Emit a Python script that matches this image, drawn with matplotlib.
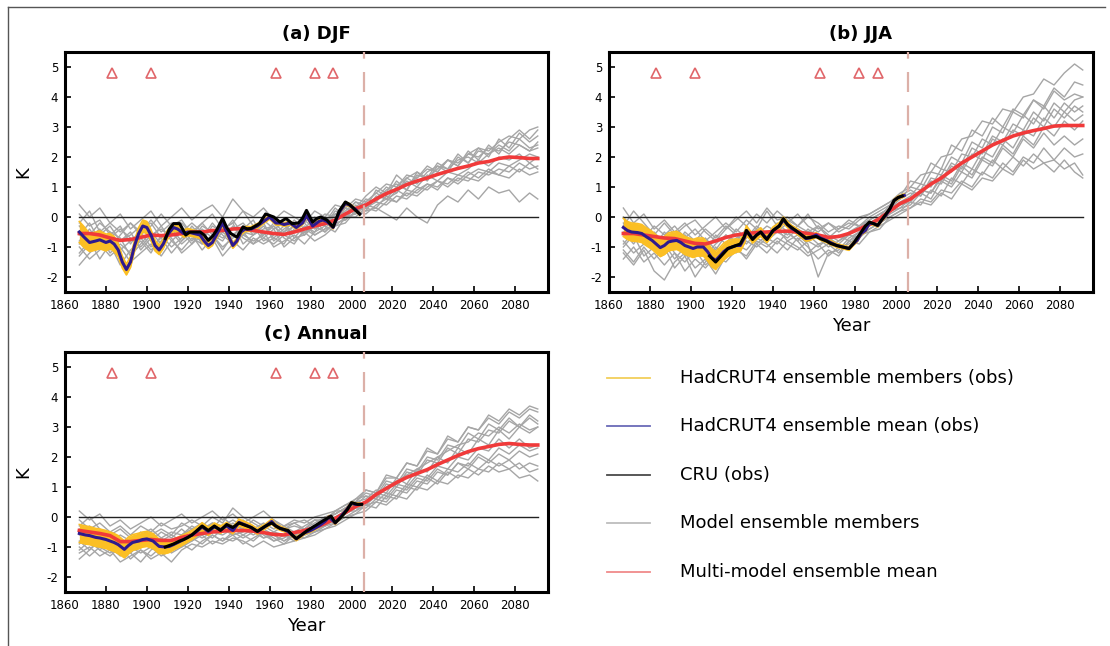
import numpy as np
import matplotlib
matplotlib.use("Agg")
import matplotlib.pyplot as plt
from matplotlib.lines import Line2D

# ---------------- data ----------------
member_years = [1867, 1872, 1877, 1882, 1887, 1892, 1897, 1902, 1907, 1912, 1917, 1922,
                1927, 1932, 1937, 1942, 1947, 1952, 1957, 1962, 1967, 1972, 1977, 1982,
                1987, 1992, 1997, 2002, 2007, 2012, 2017, 2022, 2027, 2032, 2037, 2042,
                2047, 2052, 2057, 2062, 2067, 2072, 2077, 2082, 2087, 2091]

volcano_years = [1883, 1902, 1963, 1982, 1991]
volcano_level = 4.8
split_year = 2006

# ----- (a) DJF -----
mmm_djf = [-0.55, -0.55, -0.6, -0.7, -0.78, -0.75, -0.68, -0.6, -0.62, -0.6, -0.55, -0.5,
           -0.5, -0.45, -0.45, -0.4, -0.38, -0.45, -0.5, -0.55, -0.58, -0.5, -0.4, -0.3,
           -0.22, -0.1, 0.1, 0.28, 0.4, 0.6, 0.78, 0.92, 1.08, 1.2, 1.3, 1.42,
           1.52, 1.62, 1.7, 1.8, 1.85, 1.95, 2.0, 1.98, 1.95, 1.95]
members_djf = [
    [0.1, -0.3, -0.1, -0.6, -0.3, -0.9, -0.4, -0.2, -0.7, -0.3, -0.1, -0.6, -0.2, 0.1, -0.4, -0.2, 0.2, -0.3, -0.6, -0.2, -0.5, -0.1, -0.4, 0.0, -0.3, 0.2, 0.1, 0.5, 0.3, 0.9, 0.7, 1.2, 0.9, 1.5, 1.3, 1.8, 1.6, 2.1, 1.8, 2.3, 2.0, 2.6, 2.3, 2.8, 2.5, 2.7],
    [-1.2, -0.8, -1.4, -0.9, -1.6, -1.1, -0.8, -1.2, -0.6, -1.0, -0.7, -0.4, -0.9, -0.6, -0.8, -0.3, -0.7, -0.9, -0.5, -1.0, -0.8, -0.6, -0.9, -0.5, -0.3, -0.5, 0.0, 0.1, 0.4, 0.3, 0.7, 0.5, 0.9, 0.8, 1.1, 0.9, 1.3, 1.2, 1.5, 1.3, 1.6, 1.4, 1.7, 1.5, 1.8, 1.6],
    [-0.3, -0.7, -0.4, -1.0, -0.8, -0.5, -1.1, -0.7, -0.3, -0.8, -0.5, -0.9, -0.4, -0.7, -0.2, -0.6, -0.4, -0.1, -0.7, -0.4, -0.2, -0.7, -0.3, -0.5, 0.0, -0.2, 0.3, 0.2, 0.6, 0.5, 0.9, 1.1, 0.9, 1.4, 1.3, 1.6, 1.9, 1.7, 2.1, 2.0, 2.3, 2.2, 2.5, 2.4, 2.2, 2.5],
    [-0.8, -0.4, -0.9, -0.5, -0.7, -1.3, -0.9, -0.5, -0.9, -0.4, -0.8, -0.3, -0.7, -0.2, -0.6, -0.9, -0.5, -0.6, -0.3, -0.7, -0.9, -0.4, -0.2, -0.6, -0.4, 0.1, -0.1, 0.4, 0.2, 0.3, 0.1, -0.1, 0.3, 0.0, -0.2, 0.4, 0.7, 0.5, 0.9, 0.6, 1.0, 0.8, 0.9, 0.5, 0.8, 0.6],
    [-0.5, -1.0, -0.6, -0.3, -0.8, -0.6, -0.3, -0.8, -1.0, -0.5, -0.2, -0.6, -0.8, -0.3, -0.5, -0.1, -0.6, -0.3, -0.8, -0.6, -0.3, -0.5, -0.1, -0.4, -0.2, 0.3, 0.0, 0.3, 0.7, 1.0, 0.8, 1.4, 1.1, 1.3, 1.7, 1.5, 1.9, 1.7, 2.2, 1.9, 2.4, 2.1, 2.6, 2.9, 2.6, 2.9],
    [-1.6, -1.2, -0.9, -1.3, -1.0, -1.5, -1.2, -0.9, -1.3, -0.8, -1.1, -0.7, -0.9, -0.6, -1.0, -0.7, -0.5, -0.9, -0.7, -0.9, -0.6, -0.8, -0.5, -0.3, -0.5, -0.2, -0.1, 0.2, 0.1, 0.4, 0.6, 0.5, 0.8, 0.7, 1.0, 1.2, 1.0, 1.3, 1.2, 1.5, 1.4, 1.6, 1.5, 1.8, 1.6, 1.7],
    [0.4, 0.0, 0.3, -0.2, 0.1, -0.4, -0.1, 0.2, -0.3, 0.0, 0.3, -0.1, 0.2, 0.4, 0.0, 0.6, 0.2, 0.0, 0.3, -0.1, 0.2, 0.0, -0.2, 0.2, 0.0, 0.4, 0.3, 0.6, 0.5, 0.8, 1.1, 1.0, 1.4, 1.3, 1.6, 1.5, 1.9, 1.8, 2.1, 2.3, 2.2, 2.5, 2.7, 2.6, 2.9, 3.0],
    [-0.9, -0.6, -0.2, -0.5, -1.1, -0.8, -0.5, -1.0, -0.7, -1.2, -0.8, -0.5, -0.2, -0.6, -1.1, -0.6, -0.3, -0.5, -0.1, -0.4, -1.0, -0.7, -0.6, -0.2, 0.1, 0.0, 0.4, 0.3, 0.2, 0.7, 0.6, 0.8, 1.2, 1.0, 1.4, 1.2, 1.5, 1.4, 1.6, 1.9, 1.7, 2.0, 1.9, 2.1, 1.8, 2.0],
    [-0.2, 0.2, -0.5, -0.2, -0.5, -0.2, -0.6, -0.3, 0.1, -0.3, -0.5, -0.2, -0.5, -0.9, -0.4, -0.2, -0.9, -0.6, -0.4, -0.3, -0.6, -0.3, -0.6, -0.3, -0.1, 0.1, 0.3, 0.1, 0.5, 0.8, 0.6, 1.0, 1.3, 1.1, 1.5, 1.7, 1.5, 2.0, 1.8, 2.2, 2.1, 2.4, 2.2, 2.6, 2.3, 2.4],
    [-1.0, -1.4, -1.1, -0.7, -0.4, -0.7, -1.0, -0.6, -0.4, -0.7, -1.2, -0.9, -0.6, -0.9, -0.5, -0.8, -1.1, -0.7, -0.9, -0.7, -0.4, -0.2, -0.5, -0.8, -0.6, -0.3, 0.0, 0.0, 0.3, 0.2, 0.5, 0.9, 0.7, 1.0, 0.9, 1.2, 1.1, 1.4, 1.3, 1.2, 1.5, 1.4, 1.3, 1.6, 1.4, 1.5],
    [-0.6, -0.2, -0.8, -1.1, -0.6, -0.2, -0.5, -0.1, -0.5, -0.2, -0.4, -0.8, -0.3, -0.5, -0.7, -0.4, -0.2, -0.6, -0.2, -0.8, -0.5, -0.3, -0.6, -0.1, -0.5, -0.1, 0.2, 0.5, 0.4, 0.6, 1.0, 0.8, 1.3, 1.5, 1.2, 1.7, 1.6, 1.9, 2.0, 1.8, 2.1, 2.3, 2.1, 2.4, 2.2, 2.3],
    [-1.3, -0.9, -0.6, -1.2, -0.9, -1.2, -0.7, -1.1, -0.8, -0.5, -0.9, -0.6, -1.1, -0.7, -1.3, -0.9, -0.6, -0.8, -0.6, -0.3, -0.7, -0.9, -0.4, -0.6, -0.4, -0.3, -0.2, 0.2, 0.3, 0.5, 0.4, 0.7, 0.6, 0.9, 1.1, 1.0, 1.3, 1.1, 1.4, 1.6, 1.5, 1.8, 1.7, 1.9, 2.1, 2.0],
]
had_years_djf = [1867, 1869, 1872, 1875, 1877, 1880, 1882, 1884, 1886, 1888, 1890, 1892, 1894,
                 1896, 1898, 1900, 1902, 1904, 1906, 1908, 1910, 1913, 1915, 1918, 1920, 1923,
                 1926, 1928, 1930, 1932, 1934, 1937, 1939, 1942, 1944, 1946, 1948, 1951, 1954,
                 1957, 1960, 1963, 1965, 1967, 1970, 1973, 1976, 1978, 1981, 1984, 1986, 1988,
                 1991, 1994, 1997, 1999, 2002, 2004]
had_mean_djf = [-0.5, -0.65, -0.85, -0.8, -0.76, -0.85, -0.8, -0.9, -1.1, -1.5, -1.75, -1.5, -0.95,
                -0.55, -0.3, -0.35, -0.6, -0.95, -1.1, -0.9, -0.6, -0.35, -0.4, -0.55, -0.5, -0.55,
                -0.6, -0.8, -0.95, -0.85, -0.6, -0.2, -0.5, -0.95, -0.8, -0.5, -0.4, -0.4, -0.3,
                -0.15, 0.0, -0.2, -0.2, -0.25, -0.2, -0.35, -0.2, 0.05, -0.3, -0.15, -0.1, -0.15,
                -0.35, 0.15, 0.45, 0.4, 0.25, 0.1]
had_spread_djf = [0.35, 0.35, 0.3, 0.3, 0.3, 0.28, 0.25, 0.25, 0.22, 0.2, 0.18, 0.18, 0.18,
                  0.2, 0.2, 0.2, 0.18, 0.18, 0.15, 0.15, 0.15, 0.12, 0.12, 0.12, 0.12, 0.11,
                  0.11, 0.11, 0.1, 0.1, 0.1, 0.1, 0.1, 0.09, 0.09, 0.09, 0.08, 0.08, 0.08,
                  0.07, 0.07, 0.07, 0.07, 0.06, 0.06, 0.06, 0.06, 0.06, 0.05, 0.05, 0.05, 0.05,
                  0.05, 0.05, 0.05, 0.05, 0.05, 0.05]
cru_years_djf = [1909, 1911, 1913, 1916, 1919, 1921, 1923, 1926, 1928, 1930, 1932, 1934, 1937,
                 1939, 1941, 1944, 1947, 1949, 1951, 1955, 1958, 1960, 1962, 1965, 1968, 1971,
                 1974, 1976, 1978, 1981, 1983, 1985, 1988, 1991, 1994, 1997, 1999, 2002, 2004]
cru_djf = [-0.72, -0.4, -0.22, -0.22, -0.6, -0.5, -0.5, -0.5, -0.6, -0.78, -0.65, -0.45, -0.05,
           -0.35, -0.55, -0.67, -0.33, -0.4, -0.38, -0.22, 0.1, 0.05, 0.0, -0.17, -0.05, -0.22,
           -0.2, -0.05, 0.22, -0.17, -0.05, 0.0, -0.1, -0.33, 0.2, 0.5, 0.42, 0.22, 0.1]

# ----- (b) JJA -----
mmm_jja = [-0.55, -0.55, -0.6, -0.65, -0.7, -0.72, -0.8, -0.88, -0.9, -0.8, -0.68, -0.6,
           -0.55, -0.52, -0.5, -0.48, -0.47, -0.5, -0.55, -0.6, -0.68, -0.65, -0.55, -0.4,
           -0.25, -0.05, 0.2, 0.45, 0.6, 0.85, 1.1, 1.3, 1.55, 1.8, 2.0, 2.2,
           2.4, 2.55, 2.7, 2.8, 2.88, 2.95, 3.03, 3.05, 3.05, 3.05]
members_jja = [
    [0.3, -0.2, 0.1, -0.4, -0.1, -0.5, -0.2, -0.6, -0.3, 0.0, -0.4, -0.1, 0.2, -0.2, 0.3, -0.1, 0.0, -0.3, 0.1, -0.4, -0.2, -0.5, -0.3, 0.0, 0.1, 0.3, 0.5, 0.8, 1.0, 1.4, 1.5, 2.0, 2.1, 2.6, 2.7, 3.2, 3.1, 3.6, 3.5, 4.0, 4.1, 4.6, 4.4, 4.8, 5.1, 4.9],
    [-1.2, -1.6, -1.1, -1.8, -2.1, -1.5, -1.2, -1.7, -1.4, -1.9, -1.3, -1.0, -1.4, -0.9, -1.2, -0.8, -1.1, -0.7, -1.0, -1.4, -1.1, -1.3, -0.8, -0.9, -0.5, -0.4, 0.0, 0.2, 0.5, 0.4, 0.9, 0.7, 1.3, 1.1, 1.6, 1.4, 1.9, 1.6, 2.0, 1.7, 2.1, 1.8, 1.9, 1.6, 1.8, 1.4],
    [-0.5, -0.9, -0.4, -0.7, -1.1, -0.8, -1.3, -0.9, -1.2, -0.6, -0.9, -0.4, -0.7, -0.3, -0.6, -0.2, -0.5, -0.8, -0.4, -0.7, -1.0, -0.8, -0.6, -0.3, -0.1, 0.1, 0.3, 0.5, 0.7, 1.1, 1.0, 1.6, 1.5, 2.1, 2.0, 2.6, 2.4, 3.0, 2.8, 3.4, 3.1, 3.7, 3.3, 3.8, 3.5, 3.7],
    [-1.0, -0.6, -1.3, -1.0, -0.7, -1.2, -1.5, -1.1, -1.6, -1.3, -0.9, -1.2, -0.8, -1.0, -0.7, -0.9, -0.5, -0.8, -1.2, -0.9, -1.3, -1.0, -0.9, -0.6, -0.4, -0.2, 0.1, 0.3, 0.4, 0.8, 0.6, 1.2, 1.0, 1.5, 1.3, 1.9, 1.7, 2.3, 2.0, 2.6, 2.3, 2.8, 2.4, 2.7, 2.4, 2.6],
    [0.0, -0.4, -0.7, -0.3, -0.6, -0.3, -0.7, -0.4, -0.8, -0.5, -0.2, -0.5, -0.1, -0.4, 0.2, -0.3, -0.2, 0.1, -0.3, -0.5, -0.2, -0.4, -0.1, -0.3, 0.0, 0.2, 0.4, 0.6, 1.0, 0.9, 1.5, 1.4, 2.0, 1.8, 2.5, 2.3, 3.0, 2.8, 3.5, 3.3, 3.9, 3.7, 4.3, 4.0, 4.5, 4.4],
    [-0.8, -1.2, -0.9, -0.5, -0.9, -1.4, -1.0, -1.3, -0.9, -1.4, -1.0, -0.7, -0.5, -0.9, -0.6, -0.4, -0.8, -0.6, -0.9, -2.0, -1.2, -1.1, -0.7, -0.5, -0.2, 0.0, 0.2, 0.4, 0.5, 0.9, 0.8, 1.3, 1.1, 1.7, 1.4, 2.0, 1.8, 2.4, 2.1, 2.7, 2.4, 3.0, 2.7, 3.2, 2.9, 3.2],
    [-0.3, 0.2, -0.2, -0.6, -0.2, -0.6, -0.3, -0.1, -0.5, -0.8, -0.4, 0.0, -0.3, 0.1, -0.2, 0.2, -0.1, -0.3, 0.0, -0.2, -0.5, -0.3, -0.4, -0.1, 0.1, 0.3, 0.5, 0.7, 1.2, 1.1, 1.8, 1.6, 2.4, 2.2, 2.9, 2.7, 3.3, 3.0, 3.6, 3.4, 3.9, 3.6, 4.2, 3.9, 4.1, 4.0],
    [-1.4, -1.0, -1.5, -1.2, -1.6, -1.2, -1.8, -1.4, -1.7, -1.3, -1.5, -1.1, -1.3, -0.8, -1.0, -0.7, -0.9, -1.1, -0.8, -1.0, -0.7, -0.9, -0.6, -0.7, -0.4, -0.2, 0.0, 0.2, 0.3, 0.6, 0.5, 0.9, 0.8, 1.2, 1.0, 1.5, 1.3, 1.8, 1.5, 2.0, 1.8, 2.3, 1.9, 2.3, 2.0, 2.1],
    [-0.6, -0.3, -0.8, -1.0, -0.5, -0.9, -0.6, -1.0, -0.7, -1.1, -0.6, -0.8, -0.4, -0.6, -0.3, -0.5, -0.2, -0.4, -0.7, -0.3, -0.6, -0.8, -0.5, -0.3, -0.2, 0.0, 0.4, 0.7, 0.9, 0.7, 1.3, 1.2, 1.8, 1.6, 2.3, 2.1, 2.7, 2.5, 3.1, 2.9, 3.5, 3.2, 3.8, 3.5, 3.9, 4.0],
    [-0.9, -0.5, -0.8, -0.6, -1.2, -0.9, -0.6, -1.0, -1.3, -0.9, -0.6, -0.9, -0.7, -0.4, -0.8, -0.5, -0.7, -0.4, -0.6, -0.9, -0.8, -0.6, -0.8, -0.5, -0.3, -0.1, 0.2, 0.3, 0.6, 0.9, 0.8, 1.4, 1.2, 1.8, 1.6, 2.2, 2.0, 2.6, 2.3, 2.9, 2.7, 3.3, 3.0, 3.5, 3.2, 3.4],
    [-0.2, -0.7, -0.5, -1.0, -0.7, -1.0, -0.5, -0.8, -0.4, -0.7, -0.3, -0.6, -0.9, -0.5, -0.8, -0.4, -0.6, -0.3, -0.5, -0.3, -0.7, -0.4, -0.2, -0.3, -0.1, 0.1, 0.3, 0.6, 0.8, 0.7, 1.2, 1.1, 1.7, 1.5, 2.1, 1.9, 2.6, 2.4, 2.9, 2.7, 3.3, 3.0, 3.6, 3.3, 3.7, 3.5],
    [-1.1, -1.5, -1.0, -1.4, -1.0, -1.7, -1.3, -2.0, -1.5, -1.0, -1.3, -0.9, -1.1, -0.7, -0.9, -1.2, -0.8, -1.0, -1.3, -1.1, -0.9, -1.2, -0.8, -0.6, -0.5, -0.3, -0.1, 0.1, 0.3, 0.5, 0.4, 0.8, 0.6, 1.1, 0.9, 1.3, 1.2, 1.6, 1.4, 1.9, 1.6, 1.8, 1.5, 1.9, 1.5, 1.3],
]
had_years_jja = [1867, 1869, 1871, 1874, 1876, 1878, 1881, 1883, 1885, 1887, 1889, 1891, 1893,
                 1895, 1897, 1899, 1901, 1903, 1906, 1908, 1910, 1912, 1914, 1916, 1918, 1920,
                 1922, 1924, 1926, 1927, 1929, 1930, 1932, 1934, 1936, 1937, 1939, 1940, 1943,
                 1945, 1947, 1949, 1951, 1953, 1956, 1958, 1961, 1963, 1966, 1968, 1971, 1974,
                 1977, 1979, 1981, 1983, 1985, 1987, 1989, 1991, 1993, 1995, 1997, 1999, 2001,
                 2004]
had_mean_jja = [-0.35, -0.45, -0.5, -0.52, -0.55, -0.65, -0.78, -0.9, -1.02, -0.95, -0.83, -0.8,
                -0.78, -0.85, -0.95, -1.0, -1.05, -1.0, -1.0, -1.15, -1.35, -1.45, -1.3, -1.15,
                -1.05, -1.0, -0.95, -0.95, -0.7, -0.45, -0.62, -0.72, -0.6, -0.5, -0.65, -0.72,
                -0.55, -0.45, -0.3, -0.1, -0.25, -0.38, -0.45, -0.55, -0.72, -0.7, -0.6, -0.7,
                -0.78, -0.85, -0.95, -1.0, -1.05, -0.9, -0.78, -0.55, -0.45, -0.2, -0.22, -0.28,
                -0.1, 0.05, 0.28, 0.55, 0.65, 0.72]
had_spread_jja = [0.3, 0.3, 0.3, 0.3, 0.3, 0.3, 0.3, 0.3, 0.3, 0.3, 0.3, 0.3, 0.3,
                  0.3, 0.3, 0.3, 0.3, 0.3, 0.3, 0.3, 0.3, 0.3, 0.28, 0.28, 0.26, 0.25,
                  0.22, 0.2, 0.18, 0.16, 0.15, 0.15, 0.14, 0.14, 0.13, 0.13, 0.12, 0.12, 0.11,
                  0.1, 0.1, 0.1, 0.09, 0.09, 0.08, 0.08, 0.08, 0.07, 0.07, 0.07, 0.06, 0.06,
                  0.06, 0.06, 0.05, 0.05, 0.05, 0.05, 0.05, 0.05, 0.05, 0.05, 0.05, 0.05, 0.05,
                  0.05]
cru_years_jja = [1909, 1912, 1914, 1916, 1918, 1920, 1922, 1924, 1926, 1927, 1929, 1930, 1932,
                 1934, 1936, 1937, 1939, 1940, 1943, 1945, 1947, 1949, 1951, 1953, 1956, 1958,
                 1961, 1963, 1966, 1968, 1971, 1974, 1977, 1979, 1982, 1985, 1987, 1989, 1991,
                 1994, 1997, 1999, 2001, 2003]
cru_jja = [-1.3, -1.5, -1.35, -1.2, -1.05, -1.0, -0.95, -0.9, -0.65, -0.45, -0.65, -0.75, -0.6,
           -0.5, -0.68, -0.75, -0.55, -0.45, -0.3, -0.05, -0.25, -0.35, -0.45, -0.55, -0.7, -0.68,
           -0.65, -0.72, -0.8, -0.88, -0.95, -1.0, -1.05, -0.9, -0.6, -0.3, -0.17, -0.22, -0.28,
           0.0, 0.28, 0.55, 0.65, 0.7]

# ----- (c) Annual -----
mmm_ann = [-0.45, -0.5, -0.55, -0.62, -0.82, -0.82, -0.78, -0.75, -0.78, -0.78, -0.68, -0.6,
           -0.55, -0.5, -0.47, -0.45, -0.45, -0.47, -0.52, -0.58, -0.6, -0.52, -0.45, -0.35,
           -0.22, -0.05, 0.15, 0.35, 0.5, 0.75, 0.95, 1.15, 1.32, 1.45, 1.58, 1.75,
           1.9, 2.05, 2.18, 2.28, 2.35, 2.42, 2.45, 2.42, 2.4, 2.4]
members_ann = [
    [0.2, -0.1, 0.1, -0.3, -0.1, -0.4, -0.2, 0.0, -0.3, -0.1, 0.1, -0.2, 0.0, 0.2, -0.1, 0.1, -0.2, 0.0, 0.2, -0.1, -0.3, -0.1, -0.2, 0.0, 0.1, 0.2, 0.4, 0.6, 0.9, 0.8, 1.3, 1.3, 1.8, 1.7, 2.2, 2.1, 2.6, 2.5, 3.0, 2.9, 3.4, 3.2, 3.6, 3.4, 3.7, 3.6],
    [-1.2, -1.0, -1.3, -1.1, -1.5, -1.3, -1.1, -1.4, -1.2, -1.5, -1.1, -0.9, -1.0, -0.8, -0.9, -0.7, -0.8, -1.0, -0.8, -1.0, -0.9, -0.8, -0.7, -0.6, -0.4, -0.3, -0.1, 0.1, 0.4, 0.3, 0.7, 0.6, 1.0, 0.9, 1.3, 1.1, 1.5, 1.3, 1.6, 1.4, 1.7, 1.5, 1.6, 1.3, 1.4, 1.2],
    [-0.4, -0.7, -0.5, -0.8, -1.0, -0.8, -0.6, -0.9, -0.7, -0.9, -0.6, -0.4, -0.6, -0.3, -0.5, -0.2, -0.4, -0.6, -0.4, -0.6, -0.8, -0.6, -0.5, -0.3, -0.1, 0.1, 0.3, 0.4, 0.7, 0.6, 1.1, 1.0, 1.5, 1.4, 1.9, 1.8, 2.3, 2.1, 2.6, 2.5, 2.9, 2.8, 3.2, 3.0, 3.3, 3.1],
    [-0.9, -0.6, -0.9, -0.7, -1.1, -1.2, -0.9, -0.8, -1.1, -0.9, -0.7, -0.8, -0.5, -0.7, -0.4, -0.6, -0.5, -0.3, -0.6, -0.8, -0.7, -0.5, -0.6, -0.4, -0.3, -0.1, 0.1, 0.3, 0.3, 0.6, 0.5, 0.9, 0.8, 1.2, 1.1, 1.5, 1.4, 1.8, 1.6, 2.0, 1.8, 2.1, 1.9, 2.2, 2.0, 2.1],
    [-0.1, -0.4, -0.2, -0.5, -0.3, -0.6, -0.3, -0.5, -0.2, -0.4, -0.3, -0.1, -0.3, 0.0, -0.2, 0.3, 0.0, -0.2, -0.4, -0.2, -0.4, -0.3, -0.4, -0.2, 0.0, 0.1, 0.3, 0.5, 0.8, 0.7, 1.2, 1.1, 1.6, 1.5, 2.0, 1.9, 2.4, 2.3, 2.8, 2.6, 3.1, 2.9, 3.3, 3.0, 3.4, 3.2],
    [-1.4, -1.1, -0.8, -1.0, -1.3, -1.0, -1.2, -1.0, -1.3, -1.1, -0.9, -1.1, -0.8, -0.6, -0.8, -0.5, -0.7, -0.5, -0.7, -0.5, -0.6, -0.7, -0.5, -0.4, -0.2, -0.1, 0.1, 0.3, 0.4, 0.7, 0.6, 1.0, 0.9, 1.3, 1.2, 1.6, 1.4, 1.8, 1.7, 2.1, 1.9, 2.3, 2.1, 2.4, 2.2, 2.3],
    [-0.6, -0.3, -0.6, -0.9, -0.6, -0.8, -0.5, -0.8, -0.5, -0.7, -0.4, -0.7, -0.4, -0.2, -0.5, -0.3, -0.1, -0.4, -0.2, -0.4, -0.3, -0.5, -0.3, -0.1, -0.2, 0.2, 0.2, 0.5, 0.6, 0.9, 0.8, 1.3, 1.1, 1.6, 1.5, 2.0, 1.8, 2.3, 2.1, 2.6, 2.4, 2.9, 2.6, 3.0, 2.8, 3.0],
    [-1.0, -1.3, -1.0, -1.2, -0.9, -1.2, -1.5, -1.1, -0.9, -1.2, -1.0, -0.7, -0.9, -0.6, -0.8, -0.6, -0.9, -0.7, -0.5, -0.8, -0.6, -0.8, -0.6, -0.5, -0.3, -0.2, 0.0, 0.2, 0.4, 0.5, 0.8, 0.7, 1.1, 1.0, 1.4, 1.2, 1.6, 1.5, 1.8, 1.6, 1.9, 1.7, 1.9, 1.6, 1.8, 1.7],
    [-0.3, 0.0, -0.4, -0.6, -0.4, -0.7, -0.9, -0.6, -0.4, -0.6, -0.2, -0.4, -0.2, -0.4, 0.0, -0.3, -0.4, -0.1, -0.3, -0.5, -0.3, -0.2, -0.4, -0.1, -0.1, 0.2, 0.4, 0.5, 0.9, 0.8, 1.4, 1.3, 1.8, 1.7, 2.3, 2.1, 2.7, 2.5, 3.0, 2.9, 3.3, 3.1, 3.5, 3.3, 3.6, 3.5],
    [-0.8, -1.1, -0.7, -0.5, -0.8, -1.0, -0.7, -1.0, -0.8, -0.6, -0.8, -0.5, -0.7, -0.5, -0.6, -0.4, -0.6, -0.8, -0.5, -0.7, -0.9, -0.6, -0.4, -0.5, -0.3, 0.0, 0.2, 0.2, 0.5, 0.8, 0.7, 1.1, 1.0, 1.4, 1.3, 1.7, 1.6, 2.0, 1.9, 2.3, 2.2, 2.6, 2.3, 2.6, 2.3, 2.4],
    [-0.5, -0.8, -1.1, -0.8, -1.1, -0.9, -0.6, -0.4, -0.7, -0.5, -0.6, -0.3, -0.5, -0.2, -0.3, -0.1, -0.3, -0.5, -0.3, -0.1, -0.4, -0.2, -0.1, -0.3, 0.0, 0.1, 0.3, 0.6, 0.7, 0.6, 1.0, 1.2, 1.4, 1.6, 1.8, 2.0, 2.2, 2.4, 2.5, 2.8, 2.7, 3.0, 2.8, 3.1, 2.9, 3.0],
    [-1.1, -0.8, -1.1, -1.3, -1.0, -1.4, -1.1, -1.3, -1.0, -0.8, -1.0, -0.8, -0.6, -0.9, -0.7, -0.8, -0.6, -0.4, -0.7, -0.6, -0.8, -0.6, -0.7, -0.5, -0.4, -0.2, 0.0, 0.1, 0.2, 0.5, 0.4, 0.7, 0.6, 1.0, 0.9, 1.2, 1.1, 1.4, 1.3, 1.6, 1.5, 1.8, 1.6, 1.8, 1.5, 1.6],
]
had_years_ann = [1867, 1870, 1872, 1875, 1877, 1880, 1882, 1884, 1886, 1889, 1891, 1893, 1896,
                 1898, 1900, 1903, 1906, 1909, 1911, 1913, 1916, 1918, 1920, 1922, 1925, 1927,
                 1930, 1933, 1936, 1939, 1942, 1945, 1949, 1951, 1954, 1958, 1961, 1963, 1965,
                 1969, 1971, 1973, 1975, 1977, 1980, 1982, 1984, 1987, 1989, 1992, 1994, 1997,
                 2000, 2002, 2004]
had_mean_ann = [-0.55, -0.6, -0.62, -0.68, -0.7, -0.75, -0.8, -0.85, -0.92, -1.08, -0.95, -0.85,
                -0.8, -0.75, -0.73, -0.8, -0.98, -1.0, -0.98, -0.92, -0.82, -0.75, -0.68, -0.6,
                -0.45, -0.33, -0.48, -0.33, -0.42, -0.3, -0.45, -0.18, -0.29, -0.35, -0.48, -0.31,
                -0.15, -0.3, -0.37, -0.48, -0.6, -0.73, -0.62, -0.53, -0.45, -0.38, -0.3, -0.15,
                0.0, -0.2, -0.05, 0.2, 0.45, 0.42, 0.42]
had_spread_ann = [0.3, 0.3, 0.3, 0.3, 0.3, 0.3, 0.3, 0.3, 0.3, 0.28, 0.28, 0.26, 0.26,
                  0.25, 0.25, 0.25, 0.24, 0.22, 0.2, 0.18, 0.17, 0.16, 0.15, 0.15, 0.14, 0.14,
                  0.13, 0.13, 0.12, 0.12, 0.11, 0.11, 0.1, 0.1, 0.09, 0.08, 0.08, 0.07, 0.07,
                  0.06, 0.06, 0.06, 0.06, 0.05, 0.05, 0.05, 0.05, 0.05, 0.05, 0.05, 0.05, 0.05,
                  0.05, 0.05, 0.05]
cru_years_ann = [1909, 1911, 1913, 1916, 1918, 1920, 1922, 1925, 1927, 1930, 1933, 1936, 1939,
                 1942, 1945, 1949, 1951, 1954, 1958, 1961, 1963, 1965, 1969, 1971, 1973, 1975,
                 1978, 1982, 1986, 1990, 1992, 1995, 1998, 2000, 2003, 2005]
cru_ann = [-1.0, -0.95, -0.9, -0.8, -0.75, -0.68, -0.6, -0.42, -0.3, -0.45, -0.3, -0.45, -0.25,
           -0.35, -0.2, -0.3, -0.35, -0.48, -0.3, -0.2, -0.3, -0.38, -0.45, -0.6, -0.72, -0.63,
           -0.47, -0.3, -0.13, 0.03, -0.19, 0.0, 0.25, 0.48, 0.42, 0.42]

x_ticks = [1860, 1880, 1900, 1920, 1940, 1960, 1980, 2000, 2020, 2040, 2060, 2080]
y_ticks = [-2, -1, 0, 1, 2, 3, 4, 5]

legend_labels = ["HadCRUT4 ensemble members (obs)", "HadCRUT4 ensemble mean (obs)",
                 "CRU (obs)", "Model ensemble members", "Multi-model ensemble mean"]
legend_colors = ["#f2cf5a", "#6a6ab8", "#4a4a4a", "#bdbdbd", "#f08a8a"]

# ---------------- styling ----------------
C_GRAY = "#a6a6a6"
C_YEL = "#fbbf24"
C_RED = "#f03a3a"
C_BLUE = "#2e1a8e"
C_DASH = "#dcb0a8"
C_TRI = "#e0666a"

W, H = 1110, 646
fig = plt.figure(figsize=(W / 100, H / 100), dpi=100)
plt.rcParams['font.family'] = ['DejaVu Sans']


def ax_rect(left, top, right, bottom):
    return [left / W, 1 - bottom / H, (right - left) / W, (bottom - top) / H]


def draw_panel(rect, title, mmm, members, hy, hm, hs, cy, cv, xlabel=False, ylabel=True):
    ax = fig.add_axes(rect)
    for m in members:
        ax.plot(member_years, m, color=C_GRAY, lw=1.0, zorder=1)
    ax.plot([member_years[0], member_years[-1]], [0, 0], color="#222222", lw=1.0, zorder=2)
    lo = [a - b for a, b in zip(hm, hs)]
    hi = [a + b for a, b in zip(hm, hs)]
    ax.fill_between(hy, lo, hi, color=C_YEL, lw=0, zorder=3)
    ax.plot(hy, lo, color=C_YEL, lw=1.2, zorder=3)
    ax.plot(hy, hi, color=C_YEL, lw=1.2, zorder=3)
    ax.plot(member_years, mmm, color=C_RED, lw=2.6, zorder=4)
    ax.plot(hy, hm, color=C_BLUE, lw=2.2, zorder=5)
    ax.plot(cy, cv, color="black", lw=2.2, zorder=6)
    ax.axvline(split_year, color=C_DASH, lw=1.6, dashes=(9, 6), zorder=7)
    ax.plot(volcano_years, [volcano_level] * len(volcano_years), linestyle="none",
            marker="^", markersize=7, markerfacecolor="none", markeredgecolor=C_TRI,
            markeredgewidth=1.2, zorder=8)
    ax.set_xlim(1860, 2096)
    ax.set_ylim(-2.5, 5.5)
    ax.set_xticks(x_ticks)
    ax.set_yticks(y_ticks)
    ax.set_xticklabels([str(v) for v in x_ticks], fontsize=8.5)
    ax.set_yticklabels([str(v) for v in y_ticks], fontsize=8.5)
    ax.tick_params(direction="in", length=4, width=1.2, pad=5)
    for s in ax.spines.values():
        s.set_linewidth(2.2)
    ax.text(0.52, 1.075, title, transform=ax.transAxes, ha="center", va="center",
            fontsize=13, fontweight="bold")
    if ylabel:
        ax.set_ylabel("K", fontsize=13, labelpad=10)
    if xlabel:
        ax.text(0.5, -0.14, "Year", transform=ax.transAxes, ha="center", va="center",
                fontsize=13)
    return ax


draw_panel(ax_rect(65, 52, 548, 292), "(a) DJF", mmm_djf, members_djf,
           had_years_djf, had_mean_djf, had_spread_djf, cru_years_djf, cru_djf)
draw_panel(ax_rect(609, 52, 1093, 292), "(b) JJA", mmm_jja, members_jja,
           had_years_jja, had_mean_jja, had_spread_jja, cru_years_jja, cru_jja,
           xlabel=True, ylabel=False)
draw_panel(ax_rect(65, 352, 548, 592), "(c) Annual", mmm_ann, members_ann,
           had_years_ann, had_mean_ann, had_spread_ann, cru_years_ann, cru_ann,
           xlabel=True)

# legend (manual)
rows_y = [378, 426, 475, 523, 572]
for lab, col, yy in zip(legend_labels, legend_colors, rows_y):
    fig.add_artist(Line2D([607 / W, 650 / W], [1 - yy / H, 1 - yy / H], color=col, lw=1.3))
    fig.text(680 / W, 1 - yy / H, lab, ha="left", va="center", fontsize=13)

# figure frame lines (top and left)
fig.add_artist(Line2D([8 / W, 1105 / W], [1 - 7 / H, 1 - 7 / H], color="#555555", lw=1.0))
fig.add_artist(Line2D([8 / W, 8 / W], [1 - 7 / H, 0], color="#555555", lw=1.0))

fig.savefig("out.png", dpi=100)
